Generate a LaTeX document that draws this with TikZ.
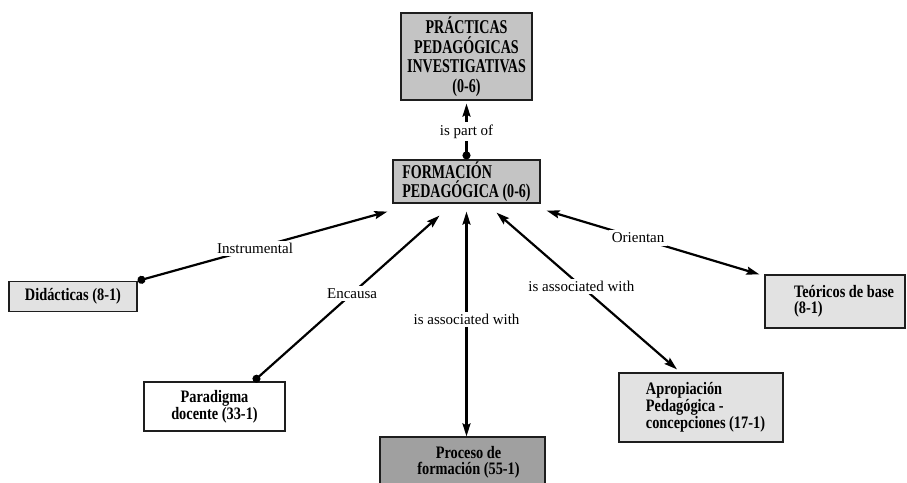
\documentclass[tikz,border=0pt]{standalone}
\usepackage{fontspec}
\setmainfont{Liberation Serif}
\newfontfamily\rootfont{Liberation Serif}[FakeStretch=0.72]
\newfontfamily\cfont{Liberation Serif}[FakeStretch=0.82]
\usetikzlibrary{arrows.meta,calc}
\definecolor{rootgray}{HTML}{C4C4C4}
\definecolor{lightbox}{HTML}{E2E2E2}
\definecolor{darkbox}{HTML}{A0A0A0}
\definecolor{edgecol}{HTML}{1E1E1E}
\begin{document}
\begin{tikzpicture}[x=1pt,y=-1pt,
  box/.style={draw=edgecol, line width=1.2pt, inner sep=0pt,
    font=\cfont\bfseries\fontsize{17.5}{15.5}\selectfont},
  rootbox/.style={box, fill=rootgray,
    font=\rootfont\bfseries\fontsize{19.5}{19.5}\selectfont},
  lbl/.style={fill=white, inner sep=2.5pt, font=\fontsize{15}{17}\selectfont},
  rel/.style={line width=2.2pt, draw=black},
  dotarrow/.style={rel, {Circle[length=8pt]}-{Stealth[length=13pt,width=8pt,inset=2pt]}},
  twoarrow/.style={rel, {Stealth[length=13pt,width=8pt,inset=2pt]}-{Stealth[length=13pt,width=8pt,inset=2pt]}}
]
\useasboundingbox (0,0) rectangle (907,482);
\clip (0,0) rectangle (907,482);

% nodes
\node[rootbox, minimum width=131, minimum height=87, align=center] (P) at (466.5,56.5)
  {PRÁCTICAS\\PEDAGÓGICAS\\INVESTIGATIVAS\\(0-6)};
\node[rootbox, minimum width=147, minimum height=43, align=left] (F) at (466.5,181.5)
  {FORMACIÓN\\PEDAGÓGICA (0-6)};
\node[box, fill=lightbox, minimum width=128, minimum height=30] (D) at (73,296.5)
  {Didácticas (8-1)};
\node[box, fill=lightbox, minimum width=140, minimum height=53, align=left] (T) at (835,301.5)
  {\hspace*{18pt}Teóricos de base\\\hspace*{18pt}(8-1)};
\node[box, fill=white, minimum width=141, minimum height=49, align=center] (Pa) at (214.5,406.5)
  {Paradigma\\docente (33-1)};
\node[box, fill=darkbox, minimum width=165, minimum height=51, align=center] (Pr) at (462.5,462.5)
  {\hspace*{12pt}Proceso de\\\hspace*{12pt}formación (55-1)};
\node[box, fill=lightbox, minimum width=164, minimum height=69, align=left] (A) at (701,407.5)
  {\hspace*{9pt}Apropiación\\\hspace*{9pt}Pedagógica -\\\hspace*{9pt}concepciones (17-1)};

% connectors
\draw[dotarrow] (F.north) -- ($(F.north |- P.south)+(0,3)$)
  node[midway, lbl] {is part of};
\draw[dotarrow] (D.north east) -- ($(F.south west)+(-5,8)$)
  node[pos=0.47, lbl] {Instrumental};
\draw[dotarrow] ($(Pa.north)+(39,0)$) -- ($(F.south)+(-27,12)$)
  node[pos=0.53, lbl] {Encausa};
\draw[twoarrow] ($(F.south)+(0,8)$) -- (F.south |- Pr.north)
  node[pos=0.48, lbl] {is associated with};
\draw[twoarrow] ($(F.south)+(30,9)$) -- ($(A.north)+(-24,-3)$)
  node[pos=0.47, lbl] {is associated with};
\draw[twoarrow] ($(F.south east)+(6,7)$) -- ($(T.north west)+(-5,0)$)
  node[pos=0.43, lbl] {Orientan};
\end{tikzpicture}
\end{document}
